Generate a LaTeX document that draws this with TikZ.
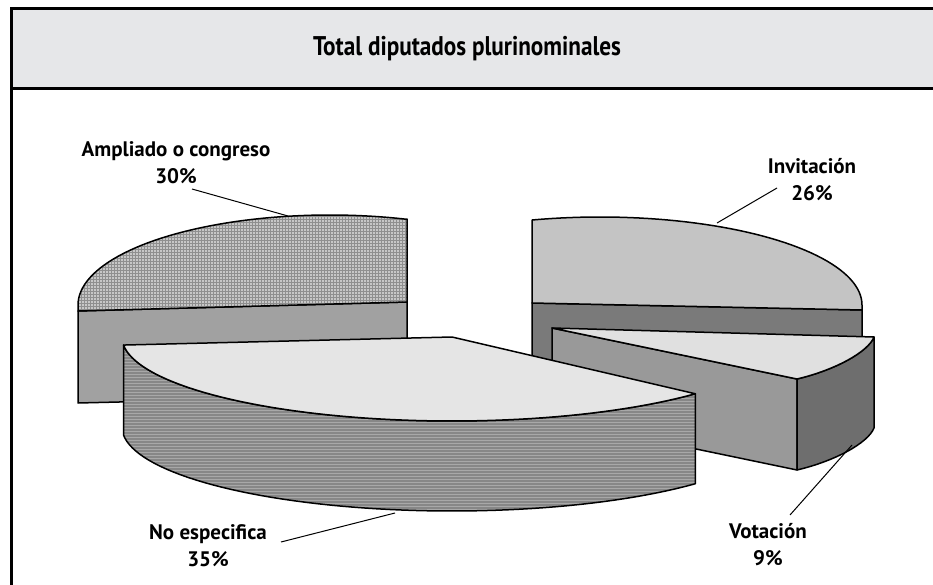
\documentclass[tikz,border=0pt]{standalone}
\usepackage{fontspec}
\setmainfont{PT Sans}
\usepackage{graphicx}
\usetikzlibrary{patterns}

\definecolor{bandgray}{HTML}{E6E7E9}
\definecolor{ampTop}{gray}{0.78}
\definecolor{ampGrid}{gray}{0.56}
\definecolor{ampSide}{gray}{0.63}
\definecolor{invTop}{gray}{0.77}
\definecolor{invSide}{gray}{0.48}
\definecolor{votTop}{gray}{0.88}
\definecolor{votFront}{gray}{0.60}
\definecolor{votSide}{gray}{0.43}
\definecolor{noTop}{gray}{0.90}
\definecolor{noSide}{gray}{0.53}
\definecolor{noLine}{gray}{0.66}

\tikzset{
  slice/.style={draw=black, line width=1.5pt, line join=round},
  lbl/.style={font=\fontsize{21}{27}\selectfont\bfseries, align=center, inner sep=0pt},
  leader/.style={line width=1pt},
}

\begin{document}
\begin{tikzpicture}[x=1pt, y=-1pt]
    \useasboundingbox (0,0) rectangle (933,585);
    \clip (0,0) rectangle (933,585);

    % Frame and title band
    \fill[bandgray] (11,9) rectangle (950,89);
    \draw[line width=3pt] (11,89) -- (950,89);
    \draw[line width=3pt] (11,600) -- (11,9) -- (950,9);
    \node[font=\fontsize{27}{30}\selectfont\bfseries] (title) at (467,49)
        {\scalebox{0.86}[1]{Total diputados plurinominales}};

    % Ampliado o congreso (back left)
    \draw[slice, fill=ampSide] (78,311) -- (407,302) -- (407,395) -- (78,403) -- cycle;
    \draw[slice, preaction={fill=ampTop}, pattern=grid, pattern color=ampGrid]
        (78,311) -- (407,302) -- (407,219)
        -- plot[domain=287.8:180, samples=50] ({330+252*cos(\x)},{305+90*sin(\x)}) -- cycle;

    % Invitacion (back right)
    \draw[slice, fill=invSide] (532,303) -- (862,310) -- (862,400) -- (532,393) -- cycle;
    \draw[slice, fill=invTop] (532,303)
        -- plot[domain=255:360, samples=50] ({600+262*cos(\x)},{305+88*sin(\x)})
        -- (862,310) -- cycle;

    % Votacion (pulled out)
    \draw[slice, fill=votFront] (552,328) -- (797,379) -- (797,470) -- (552,419) -- cycle;
    \draw[slice, fill=votSide] (797,379) .. controls (835,370) and (868,352) .. (874,337)
        -- (874,428) .. controls (868,443) and (835,461) .. (797,470) -- cycle;
    \draw[slice, fill=votTop] (552,328) -- (797,379)
        .. controls (835,370) and (868,352) .. (874,337) -- cycle;

    % No especifica (front)
    \draw[slice, preaction={fill=noSide}, pattern=horizontal lines, pattern color=noLine]
        plot[domain=174.5:42.5, samples=60] ({452+330*cos(\x)},{337+84*sin(\x)})
        -- plot[domain=42.5:174.5, samples=60] ({452+330*cos(\x)},{427+84*sin(\x)}) -- cycle;
    \draw[slice, fill=noTop] (452,337)
        -- plot[domain=174.5:42.5, samples=60] ({452+330*cos(\x)},{337+84*sin(\x)}) -- cycle;

    % Labels
    \node[lbl] (ampLbl) at (176,163) {Ampliado o congreso\\30\%};
    \node[lbl] (invLbl) at (812,180) {Invitación\\26\%};
    \node[lbl] (noLbl) at (208,546) {No especifica\\35\%};
    \node[lbl] (votLbl) at (768,545) {Votación\\9\%};

    % Leader lines
    \coordinate (ampA) at (192,189);
    \coordinate (ampB) at (288,216);
    \coordinate (invA) at (777,188);
    \coordinate (invB) at (717,223);
    \coordinate (noA) at (281,542);
    \coordinate (noB) at (395,513);
    \coordinate (votA) at (790,515);
    \coordinate (votB) at (852,445);
    \draw[leader] (ampA) -- (ampB);
    \draw[leader] (invA) -- (invB);
    \draw[leader] (noA) -- (noB);
    \draw[leader] (votA) -- (votB);

\end{tikzpicture}
\end{document}
